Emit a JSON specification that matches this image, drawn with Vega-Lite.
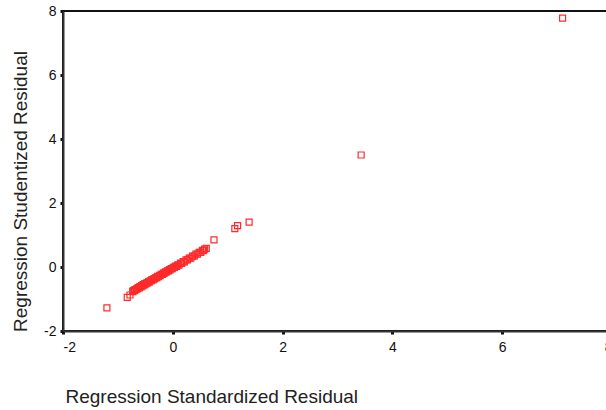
{
  "$schema": "https://vega.github.io/schema/vega-lite/v6.json",
  "autosize": "none",
  "width": 549,
  "height": 320,
  "padding": {"left": 63, "top": 11, "right": 0, "bottom": 79},
  "background": "white",
  "config": {
    "view": {"stroke": "#111", "strokeWidth": 2},
    "font": "Liberation Sans",
    "axis": {
      "grid": false,
      "domainColor": "#333",
      "domainWidth": 2,
      "tickColor": "#111",
      "tickSize": 3,
      "tickWidth": 3,
      "labelFont": "Liberation Sans",
      "labelFontSize": 14,
      "labelColor": "#111",
      "labelExpr": "'' + datum.value",
      "titleFont": "Liberation Sans",
      "titleFontSize": 19,
      "titleFontWeight": "normal",
      "titleColor": "#222"
    }
  },
  "data": {
    "values": [
      {"std": -1.20, "stu": -1.28},
      {"std": -0.83, "stu": -0.95},
      {"std": -0.78, "stu": -0.875},
      {"std": -0.73, "stu": -0.77},
      {"std": -0.72, "stu": -0.74},
      {"std": -0.70, "stu": -0.74},
      {"std": -0.69, "stu": -0.71},
      {"std": -0.67, "stu": -0.71},
      {"std": -0.66, "stu": -0.68},
      {"std": -0.64, "stu": -0.68},
      {"std": -0.63, "stu": -0.64},
      {"std": -0.61, "stu": -0.65},
      {"std": -0.60, "stu": -0.61},
      {"std": -0.58, "stu": -0.62},
      {"std": -0.57, "stu": -0.58},
      {"std": -0.55, "stu": -0.59},
      {"std": -0.54, "stu": -0.55},
      {"std": -0.52, "stu": -0.56},
      {"std": -0.51, "stu": -0.52},
      {"std": -0.49, "stu": -0.53},
      {"std": -0.47, "stu": -0.49},
      {"std": -0.46, "stu": -0.50},
      {"std": -0.44, "stu": -0.46},
      {"std": -0.43, "stu": -0.47},
      {"std": -0.41, "stu": -0.43},
      {"std": -0.39, "stu": -0.43},
      {"std": -0.38, "stu": -0.39},
      {"std": -0.36, "stu": -0.40},
      {"std": -0.34, "stu": -0.36},
      {"std": -0.33, "stu": -0.37},
      {"std": -0.31, "stu": -0.33},
      {"std": -0.29, "stu": -0.33},
      {"std": -0.28, "stu": -0.29},
      {"std": -0.26, "stu": -0.30},
      {"std": -0.24, "stu": -0.26},
      {"std": -0.23, "stu": -0.27},
      {"std": -0.21, "stu": -0.23},
      {"std": -0.19, "stu": -0.23},
      {"std": -0.17, "stu": -0.19},
      {"std": -0.16, "stu": -0.20},
      {"std": -0.14, "stu": -0.16},
      {"std": -0.12, "stu": -0.16},
      {"std": -0.10, "stu": -0.12},
      {"std": -0.08, "stu": -0.12},
      {"std": -0.06, "stu": -0.08},
      {"std": -0.05, "stu": -0.09},
      {"std": -0.03, "stu": -0.05},
      {"std": -0.01, "stu": -0.05},
      {"std": 0.01, "stu": -0.01},
      {"std": 0.03, "stu": -0.01},
      {"std": 0.05, "stu": 0.03},
      {"std": 0.07, "stu": 0.02},
      {"std": 0.09, "stu": 0.07},
      {"std": 0.11, "stu": 0.06},
      {"std": 0.14, "stu": 0.12},
      {"std": 0.16, "stu": 0.11},
      {"std": 0.19, "stu": 0.17},
      {"std": 0.21, "stu": 0.16},
      {"std": 0.24, "stu": 0.22},
      {"std": 0.27, "stu": 0.22},
      {"std": 0.30, "stu": 0.28},
      {"std": 0.33, "stu": 0.28},
      {"std": 0.36, "stu": 0.34},
      {"std": 0.39, "stu": 0.34},
      {"std": 0.42, "stu": 0.40},
      {"std": 0.45, "stu": 0.40},
      {"std": 0.48, "stu": 0.46},
      {"std": 0.51, "stu": 0.46},
      {"std": 0.54, "stu": 0.52},
      {"std": 0.56, "stu": 0.51},
      {"std": 0.58, "stu": 0.56},
      {"std": 0.61, "stu": 0.58},
      {"std": 0.75, "stu": 0.85},
      {"std": 1.13, "stu": 1.20},
      {"std": 1.18, "stu": 1.29},
      {"std": 1.39, "stu": 1.40},
      {"std": 3.43, "stu": 3.50},
      {"std": 7.10, "stu": 7.78}
    ]
  },
  "mark": {"type": "point", "shape": "square", "filled": false, "size": 36, "stroke": "#ff2a2a", "strokeWidth": 1.2, "opacity": 1},
  "encoding": {
    "x": {
      "field": "std",
      "type": "quantitative",
      "scale": {"domain": [-2, 8], "nice": false, "zero": false},
      "axis": {
        "values": [-2, 0, 2, 4, 6, 8],
        "title": "Regression Standardized Residual",
        "labelPadding": 6,
        "titleX": 2,
        "titleY": 71,
        "titleAlign": "left",
        "titleAnchor": null,
        "titleBaseline": "alphabetic"
      }
    },
    "y": {
      "field": "stu",
      "type": "quantitative",
      "scale": {"domain": [-2, 8], "nice": false, "zero": false},
      "axis": {
        "values": [-2, 0, 2, 4, 6, 8],
        "title": "Regression Studentized Residual",
        "labelPadding": 4,
        "titleX": -37,
        "titleY": 180,
        "titleAngle": -90,
        "titleAlign": "center",
        "titleAnchor": null,
        "titleBaseline": "alphabetic"
      }
    }
  }
}
